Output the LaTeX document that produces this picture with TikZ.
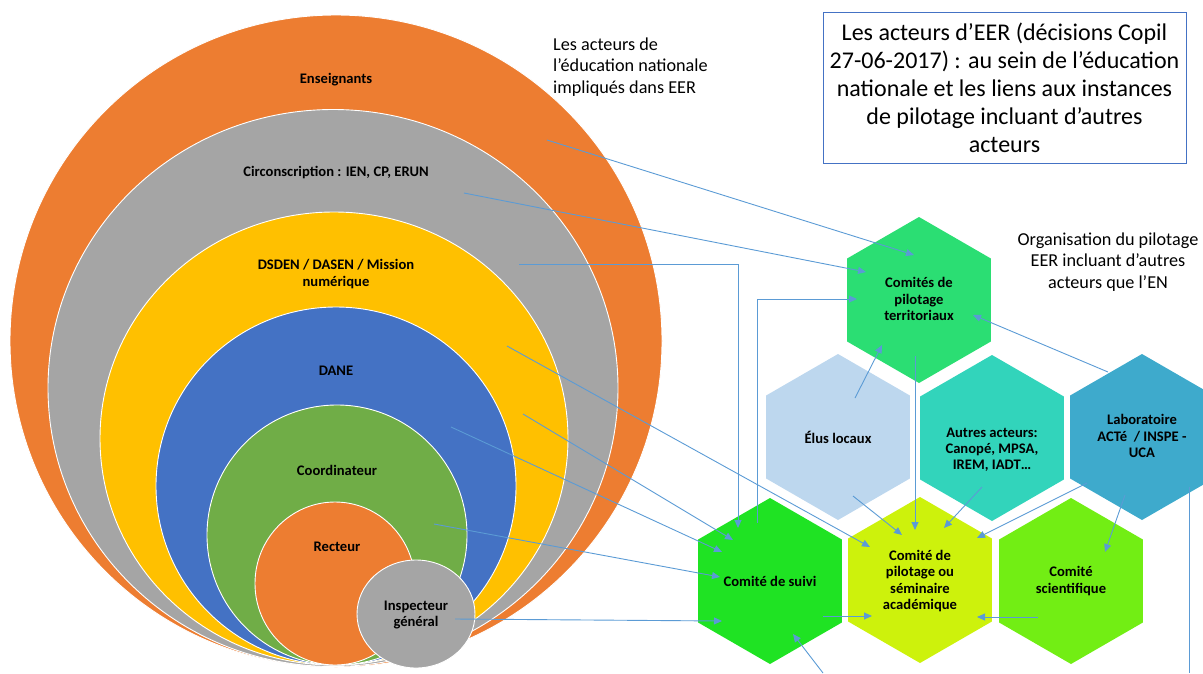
\documentclass[tikz,border=0pt]{standalone}
\usepackage{fontspec}
\setmainfont{Carlito}
\usetikzlibrary{arrows.meta}
\definecolor{corange}{RGB}{237,125,49}
\definecolor{cgray}{RGB}{165,165,165}
\definecolor{cyellow}{RGB}{255,192,0}
\definecolor{cblue}{RGB}{68,114,196}
\definecolor{cgreen}{RGB}{112,173,71}
\definecolor{hterr}{RGB}{43,222,115}
\definecolor{helus}{RGB}{189,215,238}
\definecolor{hautres}{RGB}{50,212,187}
\definecolor{hlabo}{RGB}{62,170,204}
\definecolor{hsuivi}{RGB}{31,227,35}
\definecolor{hacad}{RGB}{205,242,12}
\definecolor{hsci}{RGB}{114,238,20}
\definecolor{cline}{RGB}{91,155,213}
\definecolor{cbox}{RGB}{68,114,196}
\begin{document}
\begin{tikzpicture}[x=1pt,y=-1pt,
  lbl/.style={font=\bfseries\fontsize{14.6}{16.2}\selectfont, align=center, text=black, inner sep=0pt},
  side/.style={font=\fontsize{18.2}{21.6}\selectfont, text=black, inner sep=0pt},
  conn/.style={draw=cline, line width=0.9pt, -{Triangle[length=8pt,width=7pt]}},
  plainline/.style={draw=cline, line width=0.9pt},
  ring/.style={draw=white, line width=0.9pt},
  hexfill/.style={fill=#1}]
\useasboundingbox (0,0) rectangle (1203,673);
\clip (0,0) rectangle (1203,673);

% nested rings
\filldraw[ring, fill=corange] (336,341) ellipse [x radius=326, y radius=326];
\filldraw[ring, fill=cgray] (333,388) ellipse [x radius=285, y radius=278.5];
\filldraw[ring, fill=cyellow] (334,438.5) ellipse [x radius=234, y radius=226.5];
\filldraw[ring, fill=cblue] (336,486) ellipse [x radius=180, y radius=179];
\filldraw[ring, fill=cgreen] (337,535) ellipse [x radius=130, y radius=130];
\filldraw[ring, fill=corange] (335,583.5) ellipse [x radius=80, y radius=81.5];
\filldraw[ring, fill=cgray] (416,614) ellipse [x radius=59, y radius=54];

\node[lbl] (ens) at (336,80) {Enseignants};
\node[lbl] (circ) at (336,173) {Circonscription : IEN, CP, ERUN};
\node[lbl] (dsden) at (336,274) {DSDEN / DASEN / Mission\\numérique};
\node[lbl] (dane) at (336,371) {DANE};
\node[lbl] (coord) at (337,470) {Coordinateur};
\node[lbl] (rect) at (337,547) {Recteur};
\node[lbl] (insp) at (416,615) {Inspecteur\\général};

% hexagons
\foreach \cx/\cy/\col in {919/300/hterr, 838/437/helus, 992/438/hautres, 1142/437/hlabo, 770/581/hsuivi, 920/580/hacad, 1071/581/hsci}{
  \fill[hexfill=\col, shift={(\cx,\cy)}] (90:83) -- (150:83) -- (210:83) -- (270:83) -- (330:83) -- (30:83) -- cycle;
}
\node[lbl] (terr) at (919,299) {Comités de\\pilotage\\territoriaux};
\node[lbl] (elus) at (838,437) {Élus locaux};
\node[lbl] (autres) at (992,450) {Autres acteurs:\\Canopé, MPSA,\\IREM, IADT…};
\node[lbl] (labo) at (1142,436) {Laboratoire\\ACTé~ / INSPE -\\UCA};
\node[lbl] (suivi) at (770,581) {Comité de suivi};
\node[lbl] (acad) at (920,581) {Comité de\\pilotage ou\\séminaire\\académique};
\node[lbl] (sci) at (1071,581) {Comité\\scientifique};

% texts
\node[side, align=left, anchor=west] (lesacteurs) at (553,67) {Les acteurs de\\l’éducation nationale\\impliqués dans EER};
\node[side, align=center] (orga) at (1108,262) {Organisation du pilotage\\EER incluant d’autres\\acteurs que l’EN};
\node[draw=cbox, line width=0.8pt, minimum width=363pt, minimum height=151pt, inner sep=0pt] (titlebox) at (1004.5,88) {};
\node[font=\fontsize{24}{28}\selectfont, align=center, inner sep=0pt] (title) at (titlebox.center) {Les acteurs d’EER (décisions Copil\\27-06-2017) : au sein de l’éducation\\nationale et les liens aux instances\\de pilotage incluant d’autres\\acteurs};

% connector endpoints
\coordinate (s1) at (547,140);  \coordinate (e1) at (914,255);
\coordinate (s2) at (464,193);  \coordinate (e2) at (866,272);
\coordinate (s3) at (519,264);  \coordinate (e3) at (738,528);
\coordinate (s4) at (757,523);  \coordinate (e4) at (857,299);
\coordinate (s5) at (855,398);  \coordinate (e5) at (882,345);
\coordinate (s6) at (915,356);  \coordinate (e6) at (915,530);
\coordinate (s7) at (1108,372); \coordinate (e7) at (973,315);
\coordinate (s8) at (853,496);  \coordinate (e8) at (902,535);
\coordinate (s9) at (982,487);  \coordinate (e9) at (944,528);
\coordinate (s10) at (1087,483); \coordinate (e10) at (977,538);
\coordinate (s11) at (1125,495); \coordinate (e11) at (1105,552);
\coordinate (s12) at (507,346);  \coordinate (e12) at (870,547);
\coordinate (s13) at (523,414);  \coordinate (e13) at (733,540);
\coordinate (s14) at (451,427);  \coordinate (e14) at (722,552);
\coordinate (s15) at (434,524);  \coordinate (e15) at (720,577);
\coordinate (s16) at (455,619);  \coordinate (e16) at (722,621);
\coordinate (s17) at (823,616);  \coordinate (e17) at (872,616);
\coordinate (s18) at (1038,617); \coordinate (e18) at (977,617);
\coordinate (s19) at (823,673);  \coordinate (e19) at (793,634);
\coordinate (s20) at (1189,487); \coordinate (e20) at (1189,673);

\draw[conn] (s1) -- (e1);
\draw[conn] (s2) -- (e2);
\draw[conn] (s3) -| (e3);
\draw[conn] (s4) |- (e4);
\draw[conn] (s5) -- (e5);
\draw[conn] (s6) -- (e6);
\draw[conn] (s7) -- (e7);
\draw[conn] (s8) -- (e8);
\draw[conn] (s9) -- (e9);
\draw[conn] (s10) -- (e10);
\draw[conn] (s11) -- (e11);
\draw[conn] (s12) -- (e12);
\draw[conn] (s13) -- (e13);
\draw[conn] (s14) -- (e14);
\draw[conn] (s15) -- (e15);
\draw[conn] (s16) -- (e16);
\draw[conn] (s17) -- (e17);
\draw[conn] (s18) -- (e18);
\draw[conn] (s19) -- (e19);
\draw[plainline] (s20) -- (e20);
\end{tikzpicture}
\end{document}
